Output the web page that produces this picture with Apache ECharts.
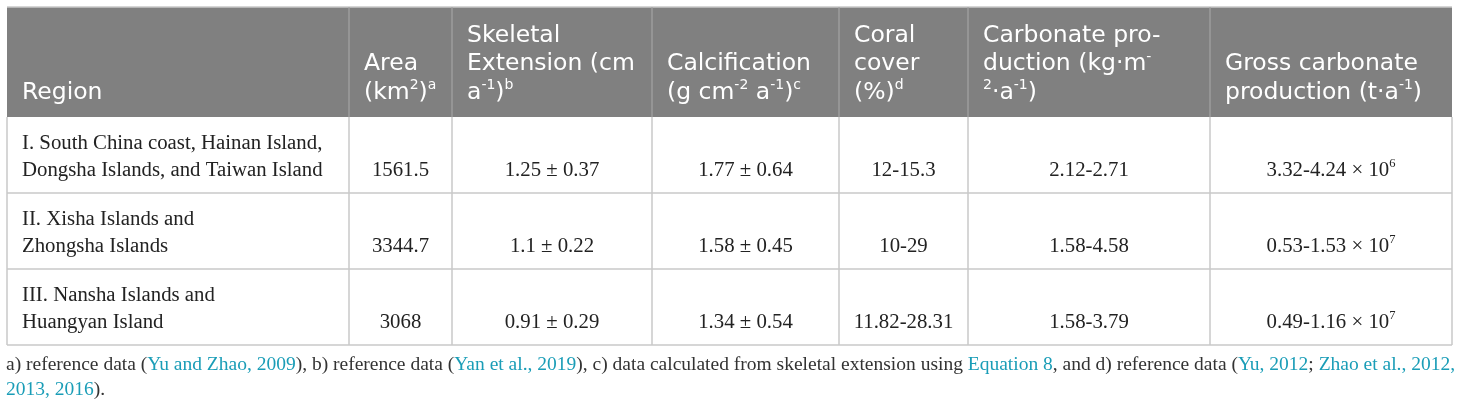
<!DOCTYPE html>
<html>
<head>
<meta charset="utf-8">
<title>Carbonate production table</title>
<script src="https://cdn.jsdelivr.net/npm/echarts@6/dist/echarts.min.js"></script>
<style>
    html, body { margin: 0; padding: 0; background: #fff; }
    #coralTable { width: 1460px; height: 406px; }
</style>
</head>
<body>
<div id="coralTable"></div>
<script>
// table content
const headers = [
    'Region',
    'Area\n(km{sup|2}){sup|a}',
    'Skeletal\nExtension (cm\na{sup|-1}){sup|b}',
    'Calcification\n(g cm{sup|-2} a{sup|-1}){sup|c}',
    'Coral\ncover\n(%){sup|d}',
    'Carbonate pro-\nduction (kg·m{sup|-}\n{sup|2}·a{sup|-1})',
    'Gross carbonate\nproduction (t·a{sup|-1})'
];
const regions = [
    'I. South China coast, Hainan Island,\nDongsha Islands, and Taiwan Island',
    'II. Xisha Islands and\nZhongsha Islands',
    'III. Nansha Islands and\nHuangyan Island'
];
const areas = ['1561.5', '3344.7', '3068'];
const extension = ['1.25 ± 0.37', '1.1 ± 0.22', '0.91 ± 0.29'];
const calcification = ['1.77 ± 0.64', '1.58 ± 0.45', '1.34 ± 0.54'];
const coralCover = ['12-15.3', '10-29', '11.82-28.31'];
const carbonateProduction = ['2.12-2.71', '1.58-4.58', '1.58-3.79'];
const grossLow = ['3.32', '0.53', '0.49'];
const grossHigh = ['4.24', '1.53', '1.16'];
const grossExponent = ['6', '7', '7'];
const footnote = 'a) reference data ({link|Yu and Zhao, 2009}), b) reference data ({link|Yan et al., 2019}), ' +
    'c) data calculated from skeletal extension using {link|Equation 8}, and d) reference data ' +
    '({link|Yu, 2012}; {link|Zhao et al., 2012,}\n{link|2013, 2016}).';

document.addEventListener('DOMContentLoaded', function() {
    drawTable();
});

function drawTable() {
    const chart = echarts.init(document.getElementById('coralTable'));

    // layout
    const colEdges = [7, 349, 452, 652, 839, 968, 1210, 1452];
    const tableTop = 7;
    const headBottom = 117;
    const rowBottoms = [193, 269, 345];
    const pad = 15;
    const gridColor = '#c9c9c9';

    const headFont = '"DejaVu Sans", "Open Sans", sans-serif';
    const bodyFont = '"Liberation Serif", "DejaVu Serif", serif';

    const elements = [];

    // header band
    elements.push({
        type: 'rect',
        shape: { x: colEdges[0], y: tableTop, width: colEdges[7] - colEdges[0], height: headBottom - tableTop },
        style: { fill: '#808080' }
    });
    elements.push({
        type: 'line',
        shape: { x1: colEdges[0], y1: tableTop, x2: colEdges[7], y2: tableTop },
        style: { stroke: gridColor, lineWidth: 1.5 }
    });
    for (let i = 1; i < colEdges.length - 1; i++) {
        elements.push({
            type: 'line',
            shape: { x1: colEdges[i], y1: tableTop, x2: colEdges[i], y2: headBottom },
            style: { stroke: '#a3a3a3', lineWidth: 1.2 }
        });
    }

    // body grid
    rowBottoms.forEach(function(y) {
        elements.push({
            type: 'line',
            shape: { x1: colEdges[0], y1: y, x2: colEdges[7], y2: y },
            style: { stroke: gridColor, lineWidth: 1.5 }
        });
    });
    colEdges.forEach(function(x) {
        elements.push({
            type: 'line',
            shape: { x1: x, y1: headBottom, x2: x, y2: rowBottoms[2] },
            style: { stroke: gridColor, lineWidth: 1.5 }
        });
    });

    // header text
    headers.forEach(function(label, i) {
        elements.push({
            type: 'text',
            x: colEdges[i] + pad,
            y: headBottom - 10,
            style: {
                text: label,
                fill: '#ffffff',
                fontFamily: headFont,
                fontSize: 23.5,
                lineHeight: 28.5,
                align: 'left',
                verticalAlign: 'bottom',
                rich: {
                    sup: { fontSize: 14, lineHeight: 17, verticalAlign: 'top', fill: '#ffffff', fontFamily: headFont }
                }
            }
        });
    });

    // body text
    const columns = [regions, areas, extension, calcification, coralCover, carbonateProduction];
    const grossCells = grossLow.map(function(lo, r) {
        return lo + '-' + grossHigh[r] + ' × 10{sup|' + grossExponent[r] + '}';
    });
    columns.push(grossCells);

    columns.forEach(function(col, c) {
        col.forEach(function(value, r) {
            const left = c === 0;
            elements.push({
                type: 'text',
                x: left ? colEdges[c] + pad : (colEdges[c] + colEdges[c + 1]) / 2,
                y: rowBottoms[r] - 9,
                style: {
                    text: value,
                    fill: '#222222',
                    fontFamily: bodyFont,
                    fontSize: 20.8,
                    lineHeight: 27,
                    align: left ? 'left' : 'center',
                    verticalAlign: 'bottom',
                    rich: {
                        sup: { fontSize: 12.5, lineHeight: 16, verticalAlign: 'top', fill: '#222222', fontFamily: bodyFont }
                    }
                }
            });
        });
    });

    // footnote
    elements.push({
        type: 'text',
        x: 6,
        y: 352,
        style: {
            text: footnote,
            fill: '#333333',
            fontFamily: bodyFont,
            fontSize: 19.5,
            lineHeight: 25,
            align: 'left',
            verticalAlign: 'top',
            rich: {
                link: { fill: '#1a9db7', fontFamily: bodyFont, fontSize: 19.5, lineHeight: 25 }
            }
        }
    });

    chart.setOption({
        animation: false,
        graphic: { elements: elements }
    });

    window.addEventListener('resize', function() {
        chart.resize();
    });
}
</script>
</body>
</html>
